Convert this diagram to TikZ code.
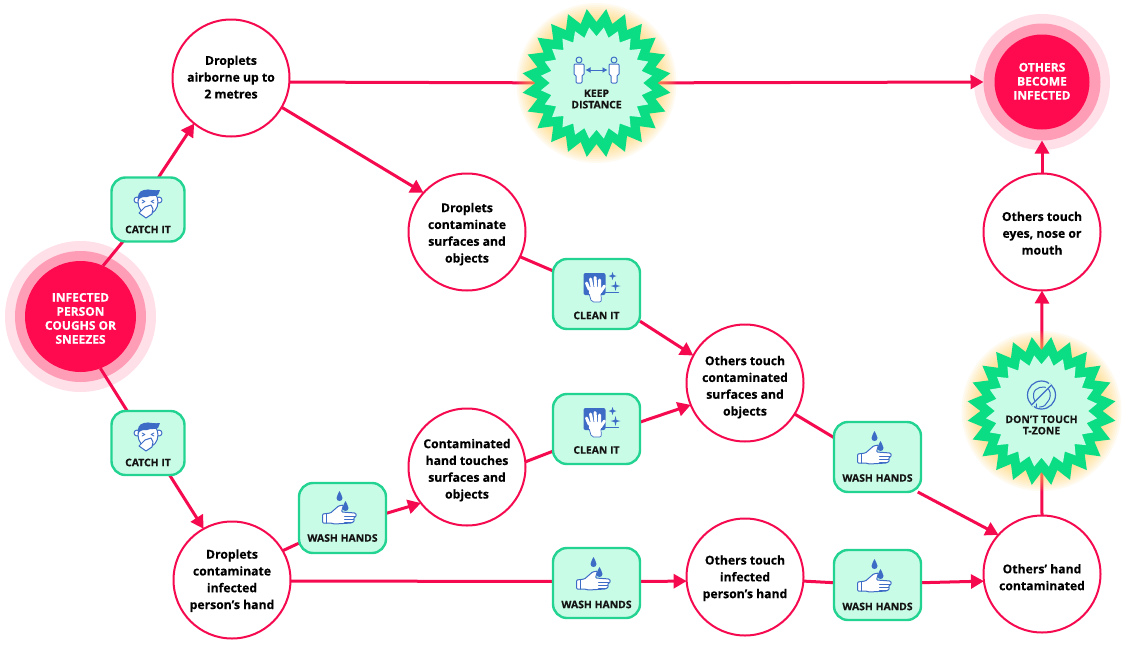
\documentclass[tikz,border=0pt]{standalone}
\usepackage{fontspec}
\setmainfont[BoldFeatures={FakeBold=0.35}]{Open Sans}
\usetikzlibrary{arrows.meta,shapes.geometric}
\definecolor{lne}{HTML}{F50A50}
\definecolor{ringa}{HTML}{FF0A4F}
\definecolor{ringb}{HTML}{FF9DB6}
\definecolor{ringc}{HTML}{FFE0E9}
\definecolor{grn}{HTML}{0BDD84}
\definecolor{boxline}{HTML}{22D391}
\definecolor{mint}{HTML}{C9FCE7}
\definecolor{ico}{HTML}{3D6CC6}
\definecolor{ink}{HTML}{141414}
\definecolor{glowc}{HTML}{FFCF55}
\pgfdeclarelayer{back}\pgfdeclarelayer{lines}\pgfdeclarelayer{glow}
\pgfsetlayers{back,lines,glow,main}
\newcommand\dropby[1]{\rule{0pt}{\dimexpr 9.6pt+2\dimexpr #1pt\relax\relax}}
\tikzset{
  spot/.style={circle,draw=lne,line width=2pt,fill=white,minimum size=117pt,inner sep=0pt,outer sep=0pt,align=center,text=black,font=\fontsize{12.2}{16.8}\selectfont\bfseries},
  hot/.style={circle,fill=ringa,inner sep=0pt,outer sep=0pt,align=center,text=white,font=\fontsize{12}{14}\selectfont\bfseries},
  ringm/.style={circle,fill=ringb,inner sep=0pt,outer sep=0pt},
  ringo/.style={circle,fill=ringc,inner sep=0pt,outer sep=0pt},
  tag/.style={text=ink,align=center,inner sep=0pt,font=\fontsize{10.4}{11.4}\selectfont\bfseries},
  actbox/.style={rectangle,rounded corners=14pt,draw=boxline,line width=2.4pt,fill=mint,inner sep=0pt,outer sep=0pt},
  catchbox/.style={actbox,minimum width=73pt,minimum height=64pt},
  cleanbox/.style={actbox,minimum width=87pt,minimum height=70pt},
  washbox/.style={actbox,minimum width=87pt,minimum height=70pt},
  burst/.style={star,star points=24,star point ratio=1.22,minimum size=149pt,inner sep=0pt,outer sep=0pt,fill=grn,shape border rotate=7.5},
  burstin/.style={star,star points=24,star point ratio=1.2,minimum size=112pt,inner sep=0pt,outer sep=0pt,fill=mint,shape border rotate=7.5},
  link/.style={draw=lne,line width=3pt},
  go/.style={link,-{Triangle[length=13pt,width=14pt]}},
  icoline/.style={draw=ico,line width=1pt,line join=round,line cap=round},
  catchicon/.pic={
    \filldraw[icoline,fill=white] (-11,-3) circle[radius=3pt] (11,-3) circle[radius=3pt];
    \filldraw[icoline,fill=white] (0,-1) ellipse[x radius=10pt,y radius=12pt];
    \fill[ico] (-10,-2) .. controls (-11,-8) and (-9,-12) .. (-4,-13) .. controls (1,-14) and (7,-12) .. (12,-13) -- (10,-8) .. controls (8,-6) and (3,-8) .. (-1,-6) .. controls (-5,-6) and (-8,-6) .. (-10,-2) -- cycle;
    \draw[icoline,line width=0.7pt] (-6,-3) -- (-3,-1.5) -- (-6,0) (6,-3) -- (3,-1.5) -- (6,0);
    \filldraw[icoline,fill=white] (-9,10) -- (-3,4) -- (3,2) -- (5,6) -- (4,11) -- (-2,15) -- cycle;
  },
  cleanicon/.pic={
    \fill[ico,rounded corners=2pt] (-13,-21) rectangle (9,1);
    \draw[icoline] (9,-2) -- (22,-2);
    \filldraw[icoline,fill=white,line width=0.7pt,rounded corners=2pt] (-9,-6) -- (4,-6) -- (5,8) -- (-5,8) -- cycle;
    \draw[white,line width=3pt,line cap=round] (-7.5,-5) -- (-10,-11) (-4,-5) -- (-6,-15) (-0.5,-5) -- (-1.5,-16.5) (3,-5) -- (3,-14) (4,-2) -- (8,-8);
    \fill[white] (-8,-7) rectangle (4,0);
    \foreach \sx/\sy/\sr in {16/-18/4,19/-8/5}{
      \fill[ico] (\sx,\sy-\sr) -- (\sx+1,\sy-1) -- (\sx+\sr,\sy) -- (\sx+1,\sy+1) -- (\sx,\sy+\sr) -- (\sx-1,\sy+1) -- (\sx-\sr,\sy) -- (\sx-1,\sy-1) -- cycle;}
  },
  washicon/.pic={
    \filldraw[icoline,fill=white,rounded corners=1pt] (-20,-4) -- (-12,-5) -- (-4,-12) -- (1,-13) -- (-1,-6) -- (13,-5) -- (14,-2) -- (11,0) -- (12,3) -- (9,5) -- (-8,6) -- (-12,5) -- (-20,5) -- cycle;
    \draw[icoline] (-16,-4.5) -- (-16,5) (2,-2) -- (12,-2) (2,1) -- (11,1) (2,4) -- (9,4);
    \foreach \dx/\dy in {-3/-21,3/-11}{
      \fill[ico] (\dx,\dy-6) .. controls (\dx+1,\dy-3) and (\dx+3,\dy-1.5) .. (\dx+3,\dy+1) .. controls (\dx+3,\dy+3) and (\dx+1.5,\dy+4) .. (\dx,\dy+4) .. controls (\dx-1.5,\dy+4) and (\dx-3,\dy+3) .. (\dx-3,\dy+1) .. controls (\dx-3,\dy-1.5) and (\dx-1,\dy-3) .. (\dx,\dy-6) -- cycle;}
  },
  keepicon/.pic={
    \foreach \px in {-17.5,17.5}{
      \draw[icoline] (\px,-23) circle[radius=3pt];
      \filldraw[icoline,fill=white,rounded corners=1pt] (\px-5,-19) -- (\px+5,-19) -- (\px+5,-8) -- (\px+3,-8) -- (\px+3,0) -- (\px-3,0) -- (\px-3,-8) -- (\px-5,-8) -- cycle;
    }
    \draw[ico,line width=0.9pt,{Latex[length=5pt,width=6pt]}-{Latex[length=5pt,width=6pt]}] (-11,-13) -- (11,-13);
  },
  donticon/.pic={
    \draw[ico,line width=1.2pt] (0,-16) circle[radius=14pt];
    \draw[icoline,line width=1pt] (-5,-4) .. controls (-4,-8) and (-9,-11) .. (-8,-17) .. controls (-7,-24) and (3,-26) .. (7,-22) .. controls (10,-18) and (9,-12) .. (6,-9) .. controls (5,-6) and (2,-4) .. (-2,-4);
    \draw[mint,line width=2.6pt] (-9,-5) -- (9,-27);
    \draw[ico,line width=1.2pt] (-10,-6) -- (10,-26);
  },
}
\begin{document}
\begin{tikzpicture}[x=1pt,y=-1pt]
\useasboundingbox (0,0) rectangle (1133,648);
\begin{pgfonlayer}{back}
  \fill[white] (0,0) rectangle (1133,648);
  \node[ringo,minimum size=151pt] (infout) at (80.5,316.5) {};
  \node[ringm,minimum size=131pt] (infmid) at (80.5,316.5) {};
  \node[ringo,minimum size=136pt] (becout) at (1042,82) {};
  \node[ringm,minimum size=117pt] (becmid) at (1042,82) {};
\end{pgfonlayer}
\begin{pgfonlayer}{glow}
  \foreach \gr in {62,64,...,80}{\fill[glowc,opacity=0.09] (596.5,83) circle[radius=\gr pt];}
  \foreach \gr in {62,64,...,80}{\fill[glowc,opacity=0.09] (1041.5,411) circle[radius=\gr pt];}
\end{pgfonlayer}
\node[hot,minimum size=111pt] (inf) at (80.5,316.5) {\dropby{1.5}INFECTED\\PERSON\\COUGHS OR\\SNEEZES};
\node[hot,minimum size=95pt] (bec) at (1042,82) {OTHERS\\BECOME\\INFECTED\rule[-1.5pt]{0pt}{1.5pt}};
\node[spot] (air) at (231,78) {Droplets\\airborne up to\\2 metres\rule[-2pt]{0pt}{2pt}};
\node[spot] (surf) at (467,232) {\dropby{2}Droplets\\contaminate\\surfaces and\\objects};
\node[spot] (touch) at (745,383) {\dropby{4}Others touch\\contaminated\\surfaces and\\objects};
\node[spot] (hand) at (467,467) {\dropby{3}Contaminated\\hand touches\\surfaces and\\objects};
\node[spot] (ownhand) at (232,580) {\dropby{0.5}Droplets\\contaminate\\infected\\person’s hand};
\node[spot] (othhand) at (745,577) {\dropby{1}Others touch\\infected\\person’s hand};
\node[spot] (ohand) at (1042,574) {\dropby{3}Others' hand\\contaminated};
\node[spot] (eyes) at (1042,232) {\dropby{1}Others touch\\eyes, nose or\\mouth};
\node[catchbox] (catcha) at (148,209.5) {};
\node[tag] (catchat) at (148,229.5) {CATCH IT};
\node[catchbox] (catchb) at (148,443) {};
\node[tag] (catchbt) at (148,462.5) {CATCH IT};
\node[cleanbox] (cleana) at (596.5,294) {};
\node[tag] (cleanat) at (596.5,315.5) {CLEAN IT};
\node[cleanbox] (cleanb) at (596.5,429) {};
\node[tag] (cleanbt) at (596.5,450) {CLEAN IT};
\node[washbox] (washa) at (342.5,518) {};
\node[tag] (washat) at (342.5,538) {WASH HANDS};
\node[washbox] (washb) at (596.5,583) {};
\node[tag] (washbt) at (596.5,604.5) {WASH HANDS};
\node[washbox] (washc) at (877.5,457) {};
\node[tag] (washct) at (877.5,478) {WASH HANDS};
\node[washbox] (washd) at (877.5,585) {};
\node[tag] (washdt) at (877.5,606.5) {WASH HANDS};
\node[burst] (keep) at (596.5,83) {};
\node[burstin] (keepin) at (596.5,83) {};
\node[tag] (keept) at (596.5,99) {KEEP\\DISTANCE};
\node[burst] (dont) at (1041.5,411) {};
\node[burstin] (dontin) at (1041.5,411) {};
\node[tag] (dontt) at (1041.5,425) {DON'T TOUCH\\T-ZONE};
\pic at (148,203) {catchicon};
\pic at (148,436) {catchicon};
\pic at (596.5,294) {cleanicon};
\pic at (596.5,429) {cleanicon};
\pic at (342.5,518) {washicon};
\pic at (596.5,584) {washicon};
\pic at (877.5,458) {washicon};
\pic at (877.5,586) {washicon};
\pic at (596.5,83) {keepicon};
\pic at (1041.5,411) {donticon};
\begin{pgfonlayer}{lines}
  \draw[link] (inf.66) -- (catcha.232);
  \draw[go] (catcha.72) -- (air.231);
  \draw[link] (inf.-69) -- (catchb.123);
  \draw[go] (catchb.-56) -- (ownhand.119);
  \draw[link] (air.-4) -- (keep.center);
  \draw[go] (keep.center) -- (becmid.west);
  \draw[go] (air.-30) -- (surf.138);
  \draw[link] (surf.-25) -- (cleana.152);
  \draw[go] (cleana.-32) -- (touch.152);
  \draw[link] (ownhand.30) -- (washa.210);
  \draw[go] (washa.6) -- (hand.218);
  \draw[link] (hand.5) -- (cleanb.207);
  \draw[go] (cleanb.9) -- (touch.202);
  \draw[link] (touch.-32) -- (washc.156);
  \draw[go] (washc.-41) -- (ohand.138);
  \draw[link] (ownhand.-1) -- (washb.178);
  \draw[go] (washb.2) -- (othhand.184);
  \draw[link] (othhand.-4) -- (washd.177);
  \draw[go] (washd.3) -- (ohand.187);
  \draw[link] (ohand.north) -- (dont.center);
  \draw[go] (dont.center) -- (eyes.south);
  \draw[go] (eyes.north) -- (becmid.south);
\end{pgfonlayer}
\end{tikzpicture}
\end{document}
